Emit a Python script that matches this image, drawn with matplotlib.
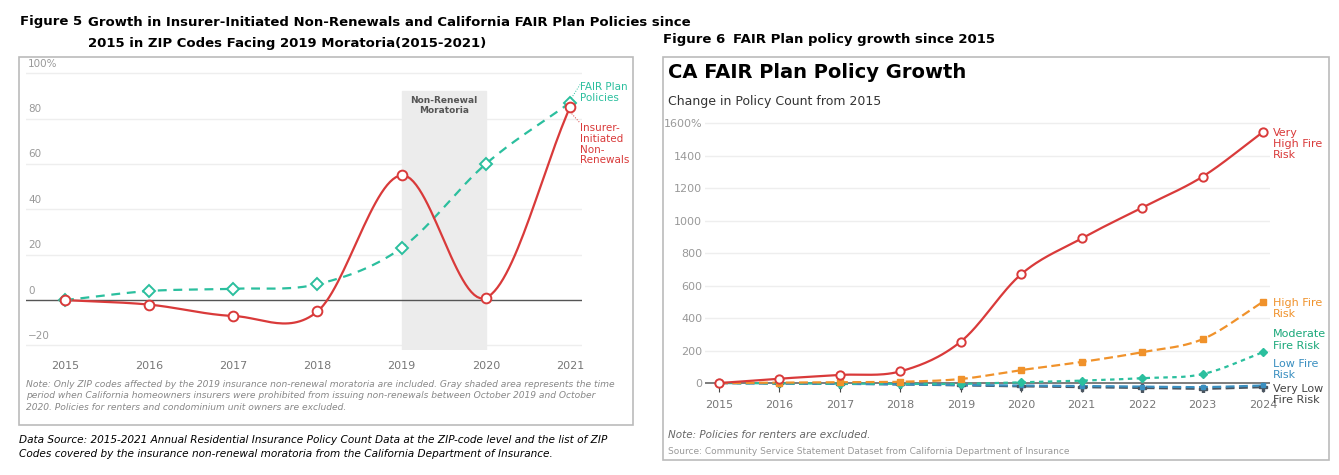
import numpy as np
import matplotlib
matplotlib.use("Agg")
import matplotlib.pyplot as plt
from matplotlib.patches import Rectangle

years_l = [2015, 2016, 2017, 2018, 2019, 2020, 2021]
fair = [0, 4, 5, 7, 23, 60, 87]
nonrenew = [0, -2, -7, -5, 55, 1, 85]

years_r = [2015, 2016, 2017, 2018, 2019, 2020, 2021, 2022, 2023, 2024]
very_high = [0, 27, 50, 72, 255, 670, 890, 1080, 1270, 1545]
high = [0, 3, 5, 8, 25, 80, 130, 190, 270, 500]
moderate = [0, -2, -3, -5, -5, 5, 15, 30, 55, 190]
low = [0, -3, -5, -8, -12, -15, -18, -22, -25, -15]
very_low = [0, -2, -4, -8, -15, -20, -25, -30, -35, -25]

def smooth(x, y, n=30, tension=0.5):
    x = np.asarray(x, float); y = np.asarray(y, float)
    px = np.concatenate([[2*x[0]-x[1]], x, [2*x[-1]-x[-2]]])
    py = np.concatenate([[2*y[0]-y[1]], y, [2*y[-1]-y[-2]]])
    xs, ys = [], []
    t = np.linspace(0, 1, n)
    for i in range(1, len(px)-2):
        def f(a0, a1, a2, a3):
            m1 = tension*(a2-a0); m2 = tension*(a3-a1)
            h00 = 2*t**3-3*t**2+1; h10 = t**3-2*t**2+t; h01 = -2*t**3+3*t**2; h11 = t**3-t**2
            return h00*a1 + h10*m1 + h01*a2 + h11*m2
        xs.append(f(*px[i-1:i+3])); ys.append(f(*py[i-1:i+3]))
    return np.concatenate(xs), np.concatenate(ys)

W, H = 1339, 475
fig = plt.figure(figsize=(W/100, H/100), dpi=100)
fig.patch.set_facecolor("white")
def fx(p): return p / W
def fy(p): return 1 - p / H

RED = "#d93a3a"; TEAL = "#2bbf9e"; ORANGE = "#f0922b"; GREEN = "#1aa87a"; BLUE = "#3a8fc0"; DARK = "#4a5560"

# ---------- Left panel ----------
fig.text(fx(20), fy(22), "Figure 5", fontsize=9.5, fontweight="bold", va="center")
fig.text(fx(88), fy(22), "Growth in Insurer-Initiated Non-Renewals and California FAIR Plan Policies since",
         fontsize=9.5, fontweight="bold", va="center")
fig.text(fx(88), fy(43), "2015 in ZIP Codes Facing 2019 Moratoria(2015-2021)", fontsize=9.5, fontweight="bold", va="center")
fig.add_artist(Rectangle((fx(19), fy(425)), fx(614), 368/H, transform=fig.transFigure,
                         fill=False, ec="#bbbbbb", lw=1.2))
axL = fig.add_axes([fx(26), fy(350), fx(556), 278/H])
axL.set_xlim(2015 - 39/84.2, 2021 + 12/84.2); axL.set_ylim(-22, 100.5)
for v in [-20, 20, 40, 60, 80, 100]:
    axL.axhline(v, color="#eeeeee", lw=1, zorder=0)
    lab = "100%" if v == 100 else str(v).replace("-", "−")
    axL.text(2015 - 37/84.2, v + 2, lab, fontsize=7.5, color="#999999", va="bottom", ha="left")
axL.text(2015 - 37/84.2, 2, "0", fontsize=7.5, color="#999999", va="bottom")
axL.axhline(0, color="#555555", lw=1, zorder=1)
axL.axvspan(2019, 2020, ymax=(92-(-22))/122.5, color="#ececec", zorder=0)
axL.text(2019.5, 90, "Non-Renewal\nMoratoria", ha="center", va="top", fontsize=6.5, fontweight="bold", color="#555555")
sx, sy = smooth(years_l, fair)
axL.plot(sx, sy, color=TEAL, lw=1.6, ls=(0, (4, 3)), zorder=3)
axL.plot(years_l, fair, ls="none", marker="D", ms=6, mfc="white", mec=TEAL, mew=1.4, zorder=4)
sx, sy = smooth(years_l, nonrenew)
axL.plot(sx, sy, color=RED, lw=1.6, zorder=3)
axL.plot(years_l, nonrenew, ls="none", marker="o", ms=7, mfc="white", mec=RED, mew=1.4, zorder=5)
for s in axL.spines.values(): s.set_visible(False)
axL.set_yticks([])
axL.set_xticks(years_l)
axL.tick_params(axis="x", length=0, labelsize=8, labelcolor="#777777", pad=8)
axL.plot([2021, 2021.12], [88, 95], color=TEAL, lw=0.7, ls=":", clip_on=False)
axL.text(2021.12, 96, "FAIR Plan\nPolicies", color=TEAL, fontsize=7.5, va="top", clip_on=False, linespacing=1.1)
axL.plot([2021, 2021.12], [83, 78], color=RED, lw=0.7, ls=":", clip_on=False)
axL.text(2021.12, 78, "Insurer-\nInitiated\nNon-\nRenewals", color=RED, fontsize=7.5, va="top", linespacing=1.1, clip_on=False)
fig.text(fx(26), fy(396), "Note: Only ZIP codes affected by the 2019 insurance non-renewal moratoria are included. Gray shaded area represents the time\n"
         "period when California homeowners insurers were prohibited from issuing non-renewals between October 2019 and October\n"
         "2020. Policies for renters and condominium unit owners are excluded.",
         fontsize=6.6, style="italic", color="#888888", va="center", linespacing=1.3)
fig.text(fx(19), fy(447), "Data Source: 2015-2021 Annual Residential Insurance Policy Count Data at the ZIP-code level and the list of ZIP\n"
         "Codes covered by the insurance non-renewal moratoria from the California Department of Insurance.",
         fontsize=7.6, style="italic", va="center", linespacing=1.4)

# ---------- Right panel ----------
fig.text(fx(663), fy(39), "Figure 6", fontsize=9.5, fontweight="bold", va="center")
fig.text(fx(733), fy(39), "FAIR Plan policy growth since 2015", fontsize=9.5, fontweight="bold", va="center")
fig.add_artist(Rectangle((fx(663), fy(460)), fx(666), 403/H, transform=fig.transFigure,
                         fill=False, ec="#bbbbbb", lw=1.2))
fig.text(fx(668), fy(73), "CA FAIR Plan Policy Growth", fontsize=14, fontweight="bold", va="center")
fig.text(fx(668), fy(101), "Change in Policy Count from 2015", fontsize=9, color="#333333", va="center")
axR = fig.add_axes([fx(705), fy(392), fx(565), 274/H])
axR.set_xlim(2015 - 14/60.4, 2024 + 7/60.4); axR.set_ylim(-55, 1631)
for v in range(200, 1800, 200):
    axR.axhline(v, color="#eeeeee", lw=1, zorder=0)
axR.axhline(0, color="#666666", lw=1.2, zorder=1)
axR.set_yticks(range(0, 1800, 200))
axR.set_yticklabels(["0"] + [str(v) for v in range(200, 1600, 200)] + ["1600%"])
axR.tick_params(axis="y", length=0, labelsize=8, labelcolor="#999999", pad=2)
axR.set_xticks(years_r)
axR.tick_params(axis="x", length=4, labelsize=8, labelcolor="#777777", color="#444444", direction="in", pad=6)
for s in axR.spines.values(): s.set_visible(False)

series = [
    (very_low, DARK, (0, (4, 2)), "P", 6),
    (low, BLUE, (0, (4, 2)), "s", 3),
    (moderate, TEAL, (0, (2, 2)), "D", 4.5),
    (high, ORANGE, (0, (4, 2)), "s", 5),
]
for vals, col, ls, mk, ms in series:
    sx, sy = smooth(years_r, vals)
    axR.plot(sx, sy, color=col, lw=1.6, ls=ls, zorder=3)
    axR.plot(years_r, vals, ls="none", marker=mk, ms=ms, color=col, zorder=4)
sx, sy = smooth(years_r, very_high)
axR.plot(sx, sy, color=RED, lw=1.6, zorder=3)
axR.plot(years_r, very_high, ls="none", marker="o", ms=6, mfc="white", mec=RED, mew=1.4, zorder=5)

lab = dict(fontsize=8, va="top", linespacing=1.15, clip_on=False)
axR.text(2024.16, 1570, "Very\nHigh Fire\nRisk", color=RED, **lab)
axR.text(2024.16, 525, "High Fire\nRisk", color=ORANGE, **lab)
axR.text(2024.16, 330, "Moderate\nFire Risk", color=GREEN, **lab)
axR.text(2024.16, 150, "Low Fire\nRisk", color=BLUE, **lab)
axR.text(2024.16, -5, "Very Low\nFire Risk", color="#444444", **lab)
fig.text(fx(668), fy(435), "Note: Policies for renters are excluded.", fontsize=7.5, style="italic", color="#666666", va="center")
fig.text(fx(668), fy(451), "Source: Community Service Statement Dataset from California Department of Insurance",
         fontsize=6.5, color="#999999", va="center")

fig.savefig("out.png", dpi=100)
